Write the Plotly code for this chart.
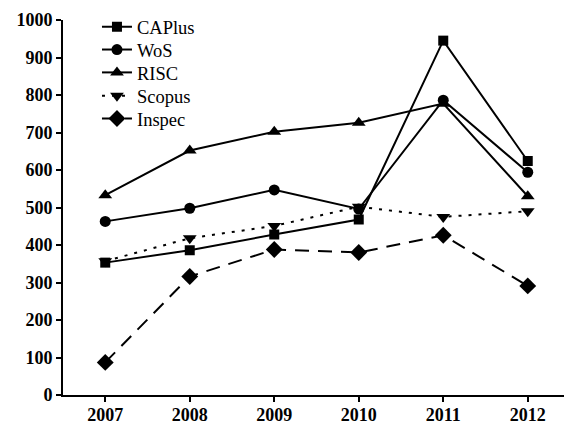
import plotly.graph_objects as go

years = [2007, 2008, 2009, 2010, 2011, 2012]
caplus = [353, 386, 428, 468, 945, 624]
wos = [463, 498, 547, 496, 786, 594]
risc = [533, 652, 702, 726, 777, 530]
scopus = [357, 418, 451, 502, 475, 490]
inspec = [87, 316, 388, 380, 426, 291]

series = [
    ("CAPlus", caplus, "solid", "square", 10),
    ("WoS", wos, "solid", "circle", 11),
    ("RISC", risc, "solid", "triangle-up", 12),
    ("Scopus", scopus, "3px,7px", "triangle-down", 12),
    ("Inspec", inspec, "14px,9px", "diamond", 13),
]

serif = "Liberation Serif, Times New Roman, DejaVu Serif, serif"
legend_names = ["legend", "legend2", "legend3", "legend4", "legend5"]
legend_y = [0.981, 0.92, 0.859, 0.797, 0.736]

fig = go.Figure()
for i, (name, vals, dash, sym, sz) in enumerate(series):
    fig.add_trace(go.Scatter(
        x=years, y=vals, name=name, mode="lines+markers",
        line=dict(color="black", width=2, dash=dash),
        marker=dict(symbol=sym, size=sz, color="black"),
        legend=legend_names[i],
    ))

legend_layout = {}
for i, ln in enumerate(legend_names):
    legend_layout[ln] = dict(
        x=0.067, y=legend_y[i], xanchor="left", yanchor="middle",
        font=dict(family=serif, size=18.5, color="black"),
        bgcolor="rgba(0,0,0,0)",
    )

axis_font = dict(family=serif, size=18, color="black", weight="bold")
# page body has an 8px default margin; size the figure to fit the window
fig.update_layout(
    width=564, height=418,
    margin=dict(l=55, r=2, t=12, b=31, autoexpand=False),
    paper_bgcolor="white", plot_bgcolor="white",
    showlegend=True,
    font=dict(family=serif),
    xaxis=dict(range=[2006.5, 2012.5], tickmode="array", tickvals=years,
               ticktext=[str(y) for y in years],
               showgrid=False, zeroline=False, showline=True, linecolor="black",
               linewidth=2, ticks="outside", ticklen=5, tickwidth=2, tickcolor="black",
               ticklabelstandoff=-3, tickfont=axis_font),
    yaxis=dict(range=[0, 1000], dtick=100, showgrid=False, zeroline=False,
               showline=True, linecolor="black", linewidth=2, ticks="outside",
               ticklen=5, tickwidth=2, tickcolor="black", tickfont=axis_font),
    **legend_layout,
)
fig.write_html("out.html")
